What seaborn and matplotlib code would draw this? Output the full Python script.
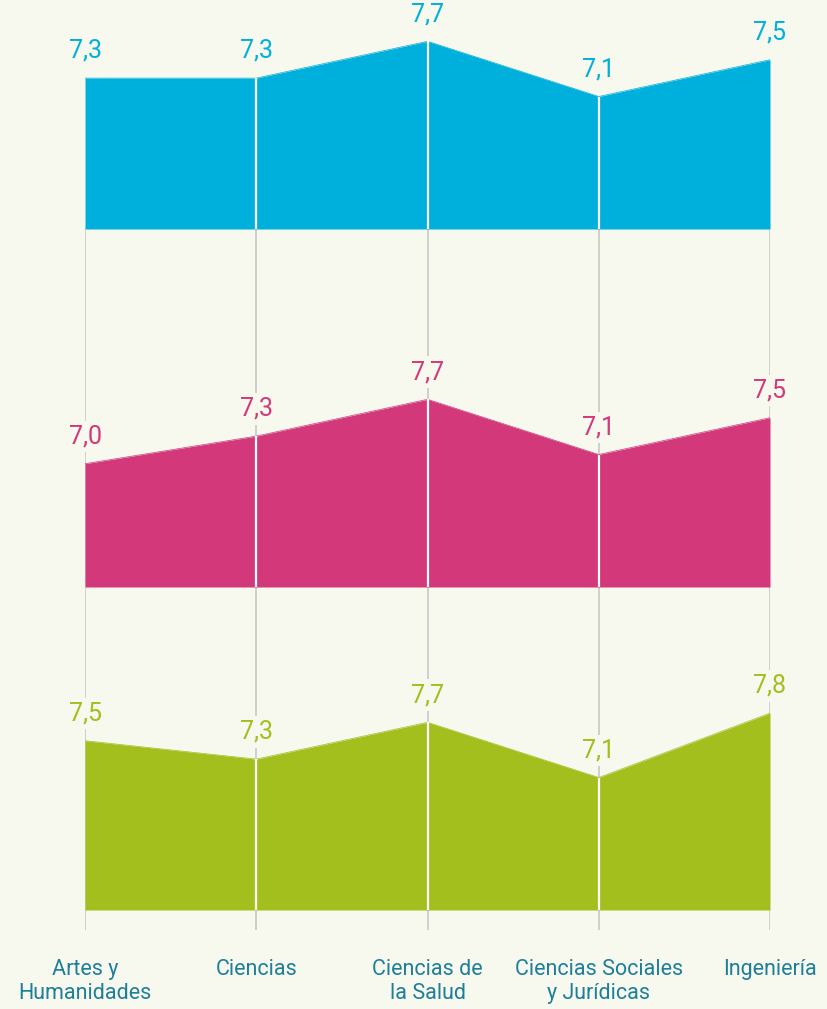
import matplotlib
matplotlib.use("Agg")
import matplotlib.pyplot as plt
import seaborn as sns
import pandas as pd

categories = ["Artes y\nHumanidades", "Ciencias", "Ciencias de\nla Salud",
              "Ciencias Sociales\ny Jurídicas", "Ingeniería"]
serie_azul = [7.3, 7.3, 7.7, 7.1, 7.5]
serie_rosa = [7.0, 7.3, 7.7, 7.1, 7.5]
serie_verde = [7.5, 7.3, 7.7, 7.1, 7.8]

BG = "#f7f8ee"
COLORS = ["#00b0dc", "#d3387b", "#a2bf1d"]
LABEL_COLOR = "#1e7f9a"
GRID = "#c9c9c9"

sns.set_theme(style="white", rc={"figure.facecolor": BG, "axes.facecolor": BG})
plt.rcParams["font.family"] = ["Roboto", "DejaVu Sans"]

W, H = 827, 1009
fig = plt.figure(figsize=(W / 100, H / 100), dpi=100)
fig.patch.set_facecolor(BG)

x0, x1 = 85, 770
left = x0 / W
width = (x1 - x0) / W
xs = list(range(len(categories)))

# background axes in pixel space for the gray guide lines and category labels
bg = fig.add_axes([left, 0, width, 1])
bg.set_xlim(0, len(categories) - 1)
bg.set_ylim(H, 0)
bg.axis("off")
bg.set_zorder(0)
bg.vlines(xs, 229, 930, color=GRID, lw=1.2, zorder=1)
for x, lab in zip(xs, categories):
    bg.text(x, 959, lab, ha="center", va="top", color=LABEL_COLOR,
            fontsize=15.5, linespacing=1.2, clip_on=False)

BASE = 5.66
PX_PER_UNIT = 92.0
bands = [(serie_azul, 229, 229), (serie_rosa, 587, 250), (serie_verde, 910, 250)]

for (vals, bottom_px, height_px), col in zip(bands, COLORS):
    ax = fig.add_axes([left, (H - bottom_px) / H, width, height_px / H])
    ax.set_zorder(2)
    ax.patch.set_alpha(0)
    ax.set_xlim(0, len(categories) - 1)
    ax.set_ylim(BASE, BASE + height_px / PX_PER_UNIT)
    df = pd.DataFrame({"x": xs, "v": vals})
    ax.fill_between(df["x"], BASE, df["v"], color=col, lw=0, zorder=2)
    sns.lineplot(data=df, x="x", y="v", color=col, lw=0.5, ax=ax, zorder=3)
    ax.vlines(xs[1:-1], BASE, vals[1:-1], color="white", lw=1.6, zorder=4)
    for x, v in zip(xs, vals):
        ax.annotate(f"{v:.1f}".replace(".", ","), (x, v), xytext=(0, 14.5),
                    textcoords="offset points", ha="center", va="baseline",
                    color=col, fontsize=18, annotation_clip=False,
                    bbox=dict(boxstyle="square,pad=0.15", fc=BG, ec="none"))
    ax.axis("off")

fig.savefig("out.png", dpi=100, facecolor=BG)
